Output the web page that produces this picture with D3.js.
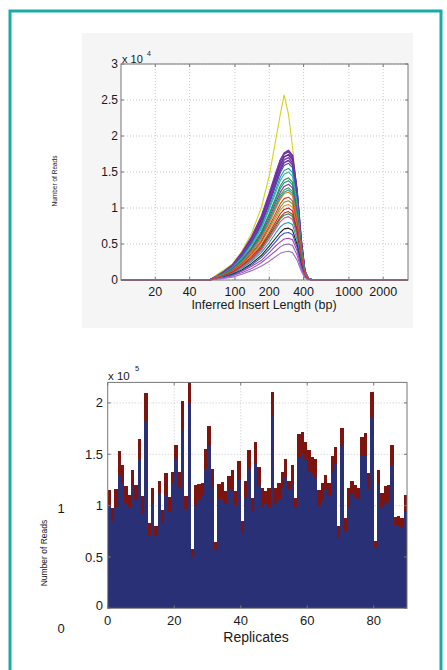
<!doctype html>
<html lang="en">
<head>
<meta charset="UTF-8">
<title>insert length / replicates</title>
<script src="https://cdn.jsdelivr.net/npm/d3@7"></script>
<style>
    body { margin: 0; background: #fff; }
    text { font-family: "Liberation Sans", Arial, sans-serif; fill: #1a1a1a; }
</style>
</head>
<body>
<svg width="447" height="670"></svg>
<script>
    // ---- top panel: insert length distributions (reads x 10^4) ----
    let insertBp = [10, 60, 70, 80, 95, 115, 140, 170, 200, 230, 250, 270, 295, 320, 350, 380, 410, 440, 480, 3300];
    let curveColors = [
        "#d6d21e",
        "#6b2d9c", "#7a35a8", "#5f2a92", "#8442b2", "#7030a0", "#3b50b2", "#1f9e9a", "#2fb3b0",
        "#2e8b3e", "#178f8a", "#7a3aa0", "#3a9a40", "#1aa39c", "#e07a1f", "#6a9a2a", "#f08a30",
        "#a04020", "#2e8b3e", "#d050a0", "#c02020", "#20a0a0", "#222222", "#3050c0", "#b040b0",
        "#9060c0", "#a070c8", "#d4402c"
    ];
    let curveReads = [
        [0, 0, 0.08, 0.14, 0.22, 0.40, 0.65, 1.00, 1.45, 1.98, 2.30, 2.57, 2.30, 1.85, 1.20, 0.55, 0.12, 0.02, 0, 0],
        [0, 0, 0.05, 0.11, 0.20, 0.36, 0.58, 0.85, 1.17, 1.48, 1.66, 1.76, 1.80, 1.73, 1.26, 0.58, 0.13, 0.02, 0, 0],
        [0, 0, 0.06, 0.12, 0.21, 0.38, 0.60, 0.88, 1.20, 1.50, 1.66, 1.75, 1.78, 1.70, 1.24, 0.57, 0.12, 0.02, 0, 0],
        [0, 0, 0.05, 0.10, 0.19, 0.35, 0.56, 0.82, 1.13, 1.43, 1.60, 1.71, 1.74, 1.67, 1.22, 0.56, 0.12, 0.02, 0, 0],
        [0, 0, 0.05, 0.10, 0.19, 0.34, 0.54, 0.80, 1.11, 1.39, 1.56, 1.67, 1.70, 1.63, 1.19, 0.54, 0.12, 0.02, 0, 0],
        [0, 0, 0.04, 0.09, 0.17, 0.32, 0.52, 0.78, 1.08, 1.36, 1.53, 1.63, 1.66, 1.60, 1.17, 0.53, 0.11, 0.02, 0, 0],
        [0, 0, 0.05, 0.10, 0.18, 0.32, 0.52, 0.76, 1.05, 1.33, 1.49, 1.59, 1.62, 1.56, 1.13, 0.52, 0.11, 0.02, 0, 0],
        [0, 0, 0.05, 0.09, 0.17, 0.31, 0.50, 0.73, 1.01, 1.27, 1.43, 1.52, 1.55, 1.49, 1.09, 0.50, 0.11, 0.02, 0, 0],
        [0, 0, 0.05, 0.09, 0.17, 0.30, 0.48, 0.71, 0.98, 1.23, 1.38, 1.47, 1.50, 1.44, 1.05, 0.48, 0.11, 0.02, 0, 0],
        [0, 0, 0.04, 0.09, 0.16, 0.28, 0.45, 0.67, 0.92, 1.16, 1.31, 1.39, 1.42, 1.36, 0.99, 0.45, 0.10, 0.01, 0, 0],
        [0, 0, 0.04, 0.08, 0.15, 0.28, 0.44, 0.65, 0.90, 1.13, 1.27, 1.35, 1.38, 1.32, 0.97, 0.44, 0.10, 0.01, 0, 0],
        [0, 0, 0.04, 0.08, 0.15, 0.27, 0.43, 0.63, 0.86, 1.09, 1.22, 1.30, 1.33, 1.28, 0.93, 0.43, 0.09, 0.01, 0, 0],
        [0, 0, 0.04, 0.08, 0.14, 0.26, 0.41, 0.60, 0.83, 1.05, 1.18, 1.25, 1.28, 1.23, 0.90, 0.41, 0.09, 0.01, 0, 0],
        [0, 0, 0.04, 0.07, 0.14, 0.25, 0.40, 0.59, 0.81, 1.02, 1.15, 1.22, 1.25, 1.20, 0.88, 0.40, 0.09, 0.01, 0, 0],
        [0, 0, 0.04, 0.07, 0.13, 0.24, 0.39, 0.57, 0.79, 1.00, 1.12, 1.20, 1.22, 1.17, 0.85, 0.39, 0.09, 0.01, 0, 0],
        [0, 0, 0.03, 0.07, 0.12, 0.22, 0.35, 0.52, 0.72, 0.90, 1.01, 1.08, 1.10, 1.06, 0.77, 0.35, 0.08, 0.01, 0, 0],
        [0, 0, 0.03, 0.06, 0.12, 0.21, 0.34, 0.49, 0.68, 0.86, 0.97, 1.03, 1.05, 1.01, 0.74, 0.34, 0.07, 0.01, 0, 0],
        [0, 0, 0.03, 0.06, 0.10, 0.19, 0.30, 0.45, 0.62, 0.78, 0.87, 0.93, 0.95, 0.91, 0.67, 0.30, 0.07, 0.01, 0, 0],
        [0, 0, 0.03, 0.06, 0.10, 0.18, 0.29, 0.43, 0.60, 0.75, 0.85, 0.90, 0.92, 0.88, 0.64, 0.29, 0.06, 0.01, 0, 0],
        [0, 0, 0.03, 0.05, 0.10, 0.18, 0.28, 0.41, 0.57, 0.72, 0.81, 0.86, 0.88, 0.84, 0.62, 0.28, 0.06, 0.01, 0, 0],
        [0, 0, 0.03, 0.06, 0.11, 0.20, 0.32, 0.47, 0.65, 0.82, 0.92, 0.98, 1.00, 0.96, 0.70, 0.32, 0.07, 0.01, 0, 0],
        [0, 0, 0.02, 0.05, 0.09, 0.16, 0.26, 0.38, 0.52, 0.66, 0.74, 0.78, 0.80, 0.77, 0.56, 0.26, 0.06, 0.01, 0, 0],
        [0, 0, 0.02, 0.04, 0.08, 0.14, 0.23, 0.34, 0.47, 0.59, 0.66, 0.71, 0.72, 0.69, 0.50, 0.23, 0.05, 0.01, 0, 0],
        [0, 0, 0.02, 0.04, 0.07, 0.13, 0.21, 0.31, 0.43, 0.54, 0.61, 0.65, 0.66, 0.63, 0.46, 0.21, 0.05, 0.01, 0, 0],
        [0, 0, 0.02, 0.03, 0.06, 0.12, 0.19, 0.27, 0.38, 0.48, 0.53, 0.57, 0.58, 0.56, 0.41, 0.19, 0.04, 0.01, 0, 0],
        [0, 0, 0.02, 0.03, 0.06, 0.10, 0.16, 0.24, 0.33, 0.41, 0.46, 0.49, 0.50, 0.48, 0.35, 0.16, 0.04, 0.01, 0, 0],
        [0, 0, 0.01, 0.02, 0.04, 0.08, 0.13, 0.19, 0.26, 0.33, 0.37, 0.39, 0.40, 0.38, 0.28, 0.13, 0.03, 0, 0, 0],
        [0, 0, 0.03, 0.07, 0.13, 0.23, 0.37, 0.54, 0.75, 0.94, 1.06, 1.13, 1.15, 1.10, 0.81, 0.37, 0.08, 0.01, 0, 0]
    ];
    let topXTicks = [20, 40, 100, 200, 400, 1000, 2000];
    let topYTicks = [0, 0.5, 1, 1.5, 2, 2.5, 3];

    // ---- bottom panel: reads per replicate (x 10^5) ----
    let replicates = d3.range(90);
    let mappedReads = [
        1.01, 0.84, 0.99, 1.30, 1.22, 1.03, 0.98, 1.19, 1.06, 1.45,
        0.92, 1.82, 0.71, 1.02, 0.70, 1.12, 0.83, 1.10, 0.94, 1.22,
        1.44, 1.17, 1.74, 0.97, 2.00, 0.50, 1.00, 1.06, 1.10, 1.35,
        1.58, 1.17, 0.57, 1.06, 1.06, 1.02, 1.15, 1.14, 1.01, 1.25,
        0.72, 1.07, 1.35, 0.94, 1.41, 1.20, 0.99, 1.02, 0.99, 1.88,
        1.02, 1.06, 1.17, 1.27, 1.15, 1.22, 0.99, 1.46, 1.51, 1.45,
        1.33, 1.30, 1.27, 1.00, 1.06, 1.15, 1.10, 1.33, 1.41, 0.68,
        1.58, 0.75, 0.98, 1.11, 1.07, 1.06, 1.48, 1.48, 1.16, 1.86,
        0.59, 1.22, 0.99, 1.02, 1.04, 1.40, 0.81, 0.80, 0.79, 0.94
    ];
    let totalReads = [
        1.15, 0.98, 1.16, 1.53, 1.40, 1.19, 1.10, 1.35, 1.20, 1.65,
        1.09, 2.10, 0.83, 1.17, 0.80, 1.24, 0.96, 1.32, 1.08, 1.33,
        1.59, 1.33, 2.02, 1.09, 2.20, 0.58, 1.20, 1.21, 1.22, 1.55,
        1.78, 1.36, 0.65, 1.21, 1.23, 1.14, 1.29, 1.35, 1.14, 1.43,
        0.85, 1.24, 1.54, 1.07, 1.62, 1.38, 1.17, 1.14, 1.17, 2.11,
        1.17, 1.22, 1.33, 1.45, 1.24, 1.40, 1.07, 1.70, 1.72, 1.62,
        1.54, 1.47, 1.45, 1.15, 1.22, 1.30, 1.22, 1.48, 1.57, 0.80,
        1.76, 0.88, 1.17, 1.24, 1.20, 1.17, 1.67, 1.71, 1.32, 2.11,
        0.66, 1.35, 1.12, 1.19, 1.20, 1.59, 0.89, 0.90, 0.88, 1.10
    ];
    let botXTicks = [0, 20, 40, 60, 80];
    let botYTicks = [0, 0.5, 1, 1.5, 2];

    let svg = d3.select("svg");

    // teal page frame + grey figure background behind the top plot
    svg.append("rect").attr("x", 10).attr("y", 11).attr("width", 431).attr("height", 700)
        .attr("fill", "none").attr("stroke", "#18aca5").attr("stroke-width", 3);
    svg.append("rect").attr("x", 82).attr("y", 33).attr("width", 331).attr("height", 295).attr("fill", "#f5f5f5");

    // white plot area + dotted grid
    function plotArea(xs, ys, xt, yt) {
        let [x0, x1] = xs.range(), [y0, y1] = ys.range();
        svg.append("rect").attr("x", x0).attr("y", y1).attr("width", x1 - x0).attr("height", y0 - y1).attr("fill", "#fff");
        let gr = svg.append("g").attr("stroke", "#bbb").attr("stroke-dasharray", "1,2").attr("stroke-width", 0.8);
        xt.forEach(t => gr.append("line").attr("x1", xs(t)).attr("x2", xs(t)).attr("y1", y0).attr("y2", y1));
        yt.forEach(t => gr.append("line").attr("x1", x0).attr("x2", x1).attr("y1", ys(t)).attr("y2", ys(t)));
    }

    // box with inward ticks on all four sides
    function frame(xs, ys, xt, yt) {
        let [x0, x1] = xs.range(), [y0, y1] = ys.range();
        let f = svg.append("g").attr("stroke", "#777").attr("stroke-width", 1).attr("fill", "none");
        xt.forEach(t => {
            f.append("line").attr("x1", xs(t)).attr("x2", xs(t)).attr("y1", y0).attr("y2", y0 - 3);
            f.append("line").attr("x1", xs(t)).attr("x2", xs(t)).attr("y1", y1).attr("y2", y1 + 3);
        });
        yt.forEach(t => {
            f.append("line").attr("x1", x0).attr("x2", x0 + 3).attr("y1", ys(t)).attr("y2", ys(t));
            f.append("line").attr("x1", x1).attr("x2", x1 - 3).attr("y1", ys(t)).attr("y2", ys(t));
        });
        f.append("rect").attr("x", x0).attr("y", y1).attr("width", x1 - x0).attr("height", y0 - y1);
    }

    // ---------- top chart ----------
    let xTop = d3.scaleLog().domain([10, 3300]).range([121, 408]);
    let yTop = d3.scaleLinear().domain([0, 3]).range([280, 64]);
    plotArea(xTop, yTop, topXTicks, topYTicks);

    svg.append("clipPath").attr("id", "clipTop").append("rect")
        .attr("x", 121).attr("y", 64).attr("width", 287).attr("height", 216.5);
    let line = d3.line().x(d => xTop(d[0])).y(d => yTop(d[1]));
    svg.append("g").attr("clip-path", "url(#clipTop)")
        .selectAll("path").data(curveReads).enter().append("path")
        .attr("d", d => line(d3.zip(insertBp, d)))
        .attr("fill", "none")
        .attr("stroke", (d, i) => curveColors[i])
        .attr("stroke-width", (d, i) => i >= 1 && i <= 5 ? 1.6 : 1.1)
        .attr("stroke-linejoin", "round");
    frame(xTop, yTop, topXTicks, topYTicks);

    svg.append("g").selectAll("text").data(topXTicks).enter().append("text")
        .attr("x", d => xTop(d)).attr("y", 296).attr("text-anchor", "middle")
        .attr("font-size", 12.5).text(d => d);
    svg.append("g").selectAll("text").data(topYTicks).enter().append("text")
        .attr("x", 118).attr("y", d => yTop(d)).attr("dy", "0.35em").attr("text-anchor", "end")
        .attr("font-size", 12).text(d => d);
    svg.append("text").attr("x", 122).attr("y", 63).attr("font-size", 11).text("x 10");
    svg.append("text").attr("x", 147).attr("y", 56).attr("font-size", 7).text("4");
    svg.append("text").attr("x", 264).attr("y", 309).attr("text-anchor", "middle")
        .attr("font-size", 12.5).text("Inferred Insert Length (bp)");
    svg.append("text").attr("transform", "translate(57,181) rotate(-90)").attr("text-anchor", "middle")
        .attr("font-size", 6.5).text("Number of Reads");

    // ---------- bottom chart ----------
    let xBot = d3.scaleLinear().domain([0, 90]).range([107.7, 407]);
    let yBot = d3.scaleLinear().domain([0, 2.2]).range([608.3, 382.4]);
    plotArea(xBot, yBot, botXTicks.slice(1), botYTicks.slice(1));

    let bars = svg.append("g").attr("shape-rendering", "crispEdges");
    bars.selectAll(".red").data(replicates).enter().append("rect")
        .attr("x", d => xBot(d)).attr("width", d => xBot(d + 1) - xBot(d))
        .attr("y", d => yBot(totalReads[d])).attr("height", d => yBot(mappedReads[d]) - yBot(totalReads[d]))
        .attr("fill", "#7c1510");
    bars.selectAll(".blue").data(replicates).enter().append("rect")
        .attr("x", d => xBot(d)).attr("width", d => xBot(d + 1) - xBot(d))
        .attr("y", d => yBot(mappedReads[d])).attr("height", d => yBot(0) - yBot(mappedReads[d]))
        .attr("fill", "#2a3075");
    frame(xBot, yBot, botXTicks, botYTicks);

    svg.append("g").selectAll("text").data(botXTicks).enter().append("text")
        .attr("x", d => xBot(d)).attr("y", 625).attr("text-anchor", "middle")
        .attr("font-size", 13).text(d => d);
    svg.append("g").selectAll("text").data(botYTicks).enter().append("text")
        .attr("x", 103).attr("y", d => yBot(d) - (d === 0 ? 3 : 0)).attr("dy", "0.35em").attr("text-anchor", "end")
        .attr("font-size", 13).text(d => d);
    svg.append("text").attr("x", 108).attr("y", 380).attr("font-size", 11.5).text("x 10");
    svg.append("text").attr("x", 135).attr("y", 371).attr("font-size", 7.5).text("5");
    svg.append("text").attr("x", 256).attr("y", 642).attr("text-anchor", "middle")
        .attr("font-size", 14).text("Replicates");
    svg.append("text").attr("transform", "translate(47,553) rotate(-90)").attr("text-anchor", "middle")
        .attr("font-size", 8.5).text("Number of Reads");
    svg.append("text").attr("x", 61).attr("y", 513).attr("text-anchor", "middle").attr("font-size", 13).text("1");
    svg.append("text").attr("x", 61).attr("y", 633).attr("text-anchor", "middle").attr("font-size", 13).text("0");
</script>
</body>
</html>
